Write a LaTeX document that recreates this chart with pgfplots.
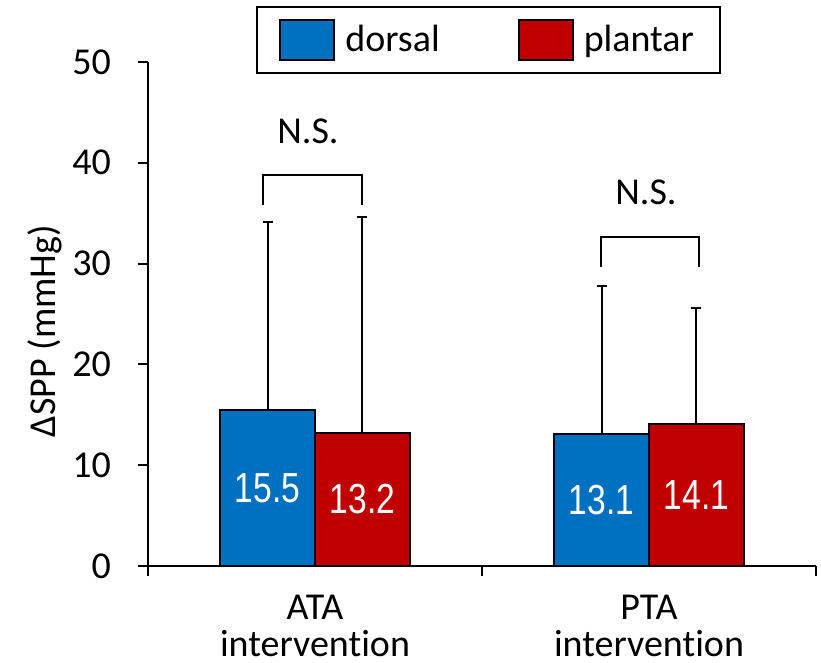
\documentclass[border=0pt]{standalone}
\usepackage{fontspec}
\setmainfont{Carlito}[Ligatures={NoCommon,NoRare,NoDiscretionary}]
\newfontfamily\narrowfont[FakeStretch=0.8]{Liberation Sans}
\usepackage{pgfplots}
\pgfplotsset{compat=1.18}
\definecolor{cblue}{HTML}{0070C0}
\definecolor{cred}{HTML}{C00000}
\begin{document}
\begin{tikzpicture}
\useasboundingbox (-74pt,-48.5pt) rectangle (336.5pt,283pt);
\begin{axis}[
  scale only axis, width=334pt, height=252pt,
  xmin=0, xmax=2, ymin=0, ymax=50,
  axis lines=left, axis line style={-, line width=1pt, black},
  ytick={0,10,...,50}, xtick={0,1,2}, xticklabels={},
  extra x ticks={0.5,1.5},
  extra x tick labels={ATA\\intervention,PTA\\intervention},
  extra x tick style={major tick length=0pt},
  xticklabel style={align=center, font=\fontsize{19}{18.5}\selectfont, yshift=-11pt},
  yticklabel style={font=\fontsize{19}{20}\selectfont, xshift=-10pt},
  /pgf/number format/assume math mode=true,
  tick align=outside, major tick length=5pt,
  tick style={line width=1pt, black},
  every axis y label/.style={at={(rel axis cs:0,0.466)}, xshift=-51.5pt, rotate=90, anchor=center, font=\fontsize{19}{20}\selectfont},
  ylabel={ΔSPP (mmHg)},
  ybar=0pt, bar width=0.284,
  nodes near coords={\pgfmathprintnumber[fixed,fixed zerofill,precision=1]{\pgfplotspointmeta}},
  visualization depends on={rawy*2.52 \as \ys},
  every node near coord/.append style={anchor=center, text=white, font=\narrowfont\fontsize{21}{22}\selectfont, yshift=-\ys pt},
  legend columns=2,
  legend style={at={(rel axis cs:0.51,1.0437)}, anchor=center, draw=black, line width=1pt,
    font=\fontsize{19}{20}\selectfont, inner xsep=11pt, inner ysep=6pt,
    /tikz/every odd column/.append style={column sep=3pt},
    /tikz/every even column/.append style={column sep=37pt}},
  legend image code/.code={\draw[#1, line width=1pt] (0pt,-10pt) rectangle (27pt,10pt);},
  clip=false,
]
\addplot[fill=cblue, draw=black, line width=1.2pt,
  error bars/.cd, y dir=plus, y explicit,
  error bar style={line width=1pt, black},
  error mark options={rotate=90, mark size=2.5pt, line width=1pt, black}]
  coordinates {(0.5,15.5) +- (0,18.6) (1.5,13.1) +- (0,14.7)};
\addlegendentry{dorsal}
\addplot[fill=cred, draw=black, line width=1.2pt,
  error bars/.cd, y dir=plus, y explicit,
  error bar style={line width=1pt, black},
  error mark options={rotate=90, mark size=2.5pt, line width=1pt, black}]
  coordinates {(0.5,13.2) +- (0,21.4) (1.5,14.1) +- (0,11.5)};
\addlegendentry{plantar}
\draw[line width=1pt] (axis cs:0.345,35.8) |- (axis cs:0.642,38.8) -- (axis cs:0.642,35.8);
\node[font=\fontsize{19}{20}\selectfont] at (axis cs:0.479,43.1) {N.S.};
\draw[line width=1pt] (axis cs:1.356,29.7) |- (axis cs:1.650,32.6) -- (axis cs:1.650,29.7);
\node[font=\fontsize{19}{20}\selectfont] at (axis cs:1.491,37.1) {N.S.};
\end{axis}
\end{tikzpicture}
\end{document}
